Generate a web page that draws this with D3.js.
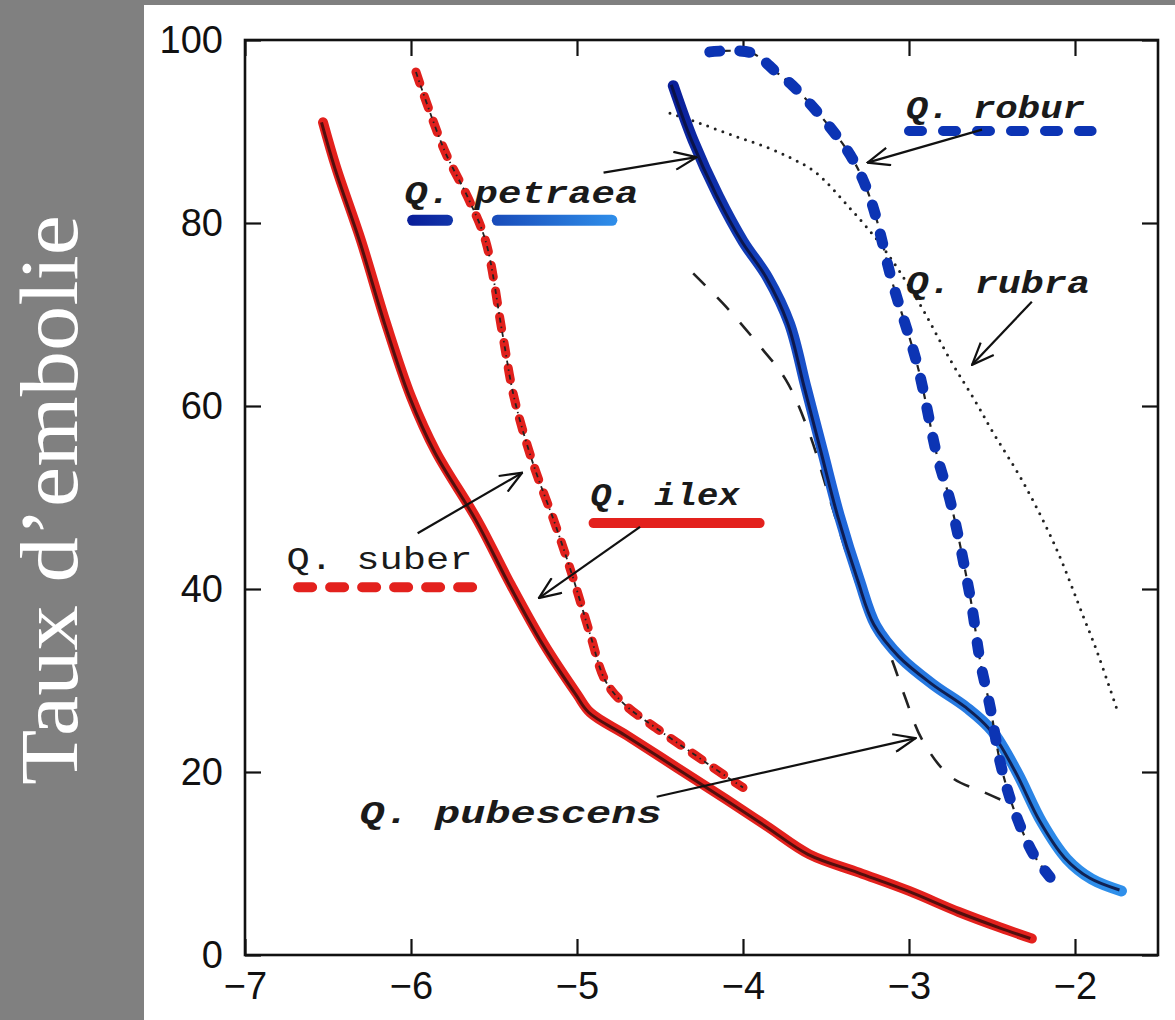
<!DOCTYPE html>
<html><head><meta charset="utf-8">
<script src="https://cdn.jsdelivr.net/npm/d3@7"></script>
<style>html,body{margin:0;padding:0;background:#808080;}svg{display:block;}</style>
</head><body>
<svg id="c" width="1175" height="1020"></svg>
<script>
// ---------------- data ----------------
const xTicks = [-7, -6, -5, -4, -3, -2];
const yTicks = [0, 20, 40, 60, 80, 100];
const yTitle = "Taux d’embolie";

const ilexX = [-6.53,-6.45,-6.3,-6.15,-6.0,-5.85,-5.6,-5.4,-5.2,-5.0,-4.92,-4.7,-4.4,-4.1,-3.85,-3.6,-3.3,-3.0,-2.7,-2.45,-2.26];
const ilexY = [91,86,78,69,61,55,47.5,40.5,34,28.5,26.5,24,20.5,17,14,11,9,7,4.7,3,1.8];

const suberX = [-5.97,-5.8,-5.65,-5.55,-5.45,-5.38,-5.27,-5.13,-5.02,-4.92,-4.83,-4.72,-4.5,-4.3,-4.1,-4.0];
const suberY = [96.5,88,82.5,78,68,61,54,47,41,35,30,27.5,24.5,22,19.5,18.3];

const petraeaX = [-4.42,-4.3,-4.15,-4.0,-3.85,-3.72,-3.62,-3.52,-3.42,-3.3,-3.2,-3.05,-2.85,-2.65,-2.5,-2.35,-2.2,-2.05,-1.9,-1.72];
const petraeaY = [95,89,83,78,74,69,62,55,48,41,36,32.5,29.5,27,24.5,20,14.5,10.5,8.3,7];

const roburX = [-4.2,-3.95,-3.8,-3.7,-3.5,-3.34,-3.23,-3.1,-2.95,-2.83,-2.75,-2.63,-2.57,-2.51,-2.45,-2.37,-2.25,-2.15];
const roburY = [98.7,98.6,96.5,95,91,87,82.5,73.5,64.5,54.5,49.5,39,32,27,21,16,11,8.5];

const pubescensX = [-4.3,-4.1,-3.92,-3.74,-3.6,-3.48,-3.36,-3.24,-3.12,-3.03,-2.92,-2.75,-2.55,-2.45];
const pubescensY = [74.5,70.8,67,62.8,57,50,43,37,33,28.5,23.5,19.5,17.8,17];

const rubraX = [-4.44,-4.26,-4.05,-3.86,-3.7,-3.56,-3.36,-3.16,-2.95,-2.75,-2.6,-2.49,-2.31,-2.11,-1.95,-1.87,-1.75];
const rubraY = [92,90.9,89.5,88.3,87,85.5,81.7,77.4,71.6,65,60.5,57,51.6,44.3,37,33.3,27];

const speciesNames = ["Q. petraea","Q. robur","Q. rubra","Q. ilex","Q. suber","Q. pubescens"];

// ---------------- layout ----------------
const W = 1175, H = 1020;
const panel = {left:144, top:5};
const plot = {left:245, right:1158, top:40, bottom:955};
const svg = d3.select("#c");

svg.append("rect").attr("x",0).attr("y",0).attr("width",W).attr("height",H).attr("fill","#808080");
svg.append("rect").attr("x",panel.left).attr("y",panel.top).attr("width",W-panel.left).attr("height",H-panel.top).attr("fill","#ffffff");

svg.append("text")
  .attr("transform",`translate(58,${(215+785)/2}) rotate(-90)`)
  .attr("text-anchor","middle").attr("dominant-baseline","middle")
  .attr("font-family","'Liberation Serif','DejaVu Serif',serif")
  .attr("font-size",82).attr("fill","#ffffff")
  .attr("textLength",570).attr("lengthAdjust","spacingAndGlyphs")
  .text(yTitle);

const x = d3.scaleLinear().domain([-7,-1.5]).range([plot.left,plot.right]);
const y = d3.scaleLinear().domain([0,100]).range([plot.bottom,plot.top]);

const defs = svg.append("defs");
const g = defs.append("linearGradient").attr("id","blueGrad").attr("x1",0).attr("y1",0).attr("x2",0).attr("y2",1);
g.append("stop").attr("offset","0%").attr("stop-color","#0a1f9a");
g.append("stop").attr("offset","45%").attr("stop-color","#1d5fd6");
g.append("stop").attr("offset","100%").attr("stop-color","#2f8fea");
const gh = defs.append("linearGradient").attr("id","blueGradH").attr("gradientUnits","userSpaceOnUse")
  .attr("x1",x(-6.0)).attr("y1",0).attr("x2",x(-4.75)).attr("y2",0);
gh.append("stop").attr("offset","0%").attr("stop-color","#0a1f9a");
gh.append("stop").attr("offset","100%").attr("stop-color","#2f8fea");
defs.append("marker").attr("id","arrow").attr("viewBox","0 0 24 20").attr("refX",23).attr("refY",10)
  .attr("markerWidth",24).attr("markerHeight",20).attr("markerUnits","userSpaceOnUse").attr("orient","auto")
  .append("path").attr("d","M1,1 L23,10 L1,19").attr("fill","none").attr("stroke","#111").attr("stroke-width",2.2);

// axes
const fontAxis = "'Liberation Sans','DejaVu Sans',Arial,sans-serif";
const tick = 16;
const axB = svg.append("g").attr("transform",`translate(0,${plot.bottom})`)
  .call(d3.axisBottom(x).tickValues(xTicks).tickSizeInner(-tick).tickSizeOuter(0).tickPadding(14).tickFormat(d3.format("d")));
const axT = svg.append("g").attr("transform",`translate(0,${plot.top})`)
  .call(d3.axisTop(x).tickValues(xTicks).tickSizeInner(-tick).tickSizeOuter(0).tickFormat(""));
const axL = svg.append("g").attr("transform",`translate(${plot.left},0)`)
  .call(d3.axisLeft(y).tickValues(yTicks).tickSizeInner(-tick).tickSizeOuter(0).tickPadding(22).tickFormat(d3.format("d")));
const axR = svg.append("g").attr("transform",`translate(${plot.right},0)`)
  .call(d3.axisRight(y).tickValues(yTicks).tickSizeInner(-tick).tickSizeOuter(0).tickFormat(""));
[axB,axT,axL,axR].forEach(a=>{
  a.select(".domain").remove();
  a.selectAll(".tick line").attr("stroke","#111").attr("stroke-width",2.2);
  a.selectAll(".tick text").attr("font-family",fontAxis).attr("font-size",38).attr("fill","#111");
});
axB.selectAll(".tick text").attr("dy","0.8em");
svg.append("rect").attr("x",plot.left).attr("y",plot.top).attr("width",plot.right-plot.left).attr("height",plot.bottom-plot.top)
  .attr("fill","none").attr("stroke","#111").attr("stroke-width",2.6);

// curves
const line = d3.line().x(d=>x(d[0])).y(d=>y(d[1])).curve(d3.curveCatmullRom.alpha(0.5));
const zip = (a,b)=>a.map((v,i)=>[v,b[i]]);
const curves = svg.append("g");

// rubra (dotted)
curves.append("path").attr("d",line(zip(rubraX,rubraY))).attr("fill","none").attr("stroke","#222")
  .attr("stroke-width",3).attr("stroke-linecap","round").attr("stroke-dasharray","0,8");
// pubescens (dashed)
curves.append("path").attr("d",line(zip(pubescensX,pubescensY))).attr("fill","none").attr("stroke","#222")
  .attr("stroke-width",2.6).attr("stroke-dasharray","17,17");
// suber
curves.append("path").attr("d",line(zip(suberX,suberY))).attr("fill","none").attr("stroke","#e0201c")
  .attr("stroke-width",9).attr("stroke-linecap","round").attr("stroke-dasharray","12,14");
curves.append("path").attr("d",line(zip(suberX,suberY))).attr("fill","none").attr("stroke","#222")
  .attr("stroke-width",1.8).attr("stroke-dasharray","5,4,1.5,4");
// ilex
curves.append("path").attr("d",line(zip(ilexX,ilexY))).attr("fill","none").attr("stroke","#e3211d")
  .attr("stroke-width",10).attr("stroke-linecap","round").attr("stroke-linejoin","round");
curves.append("path").attr("d",line(zip(ilexX,ilexY))).attr("fill","none").attr("stroke","#3a0a0a")
  .attr("stroke-width",3).attr("transform","translate(-1.5,0)").attr("opacity",0.85);
// petraea
curves.append("path").attr("d",line(zip(petraeaX,petraeaY))).attr("fill","none").attr("stroke","url(#blueGrad)")
  .attr("stroke-width",11).attr("stroke-linecap","round").attr("stroke-linejoin","round");
curves.append("path").attr("d",line(zip(petraeaX,petraeaY))).attr("fill","none").attr("stroke","#0a0f3a")
  .attr("stroke-width",3).attr("transform","translate(-2,-1)").attr("opacity",0.85);
// robur
curves.append("path").attr("d",line(zip(roburX,roburY))).attr("fill","none").attr("stroke","#222")
  .attr("stroke-width",2.2).attr("stroke-dasharray","7,7");
curves.append("path").attr("d",line(zip(roburX,roburY))).attr("fill","none").attr("stroke","#0c34b4")
  .attr("stroke-width",11).attr("stroke-linecap","round").attr("stroke-dasharray","10,20");

// ---------------- annotations (data-space anchors) ----------------
const fontLab = "'Liberation Mono','DejaVu Sans Mono',monospace";
const labels = [
  {name:speciesNames[0], x0:-6.04, x1:-4.63, yb:82.2, italic:true},
  {name:speciesNames[1], x0:-3.02, x1:-1.94, yb:91.5, italic:true},
  {name:speciesNames[2], x0:-3.02, x1:-1.91, yb:72.3, italic:true},
  {name:speciesNames[3], x0:-4.92, x1:-4.02, yb:49.2, italic:true},
  {name:speciesNames[4], x0:-6.75, x1:-5.63, yb:42.2, italic:false},
  {name:speciesNames[5], x0:-6.31, x1:-4.49, yb:14.4, italic:true}
];
const ann = svg.append("g");
labels.forEach(l=>{
  ann.append("text").attr("x",x(l.x0)).attr("y",y(l.yb))
    .attr("font-family",fontLab).attr("font-size",32).attr("font-weight",l.italic?"bold":"normal")
    .attr("font-style",l.italic?"italic":"normal").attr("fill","#1a1a1a")
    .attr("textLength",x(l.x1)-x(l.x0)).attr("lengthAdjust","spacingAndGlyphs").text(l.name);
});
// legend strokes
const keyLine = d3.line().x(d=>x(d[0])).y(d=>y(d[1]));
ann.append("path").attr("d",keyLine([[-5.99,80.3],[-5.78,80.3]])).attr("stroke","url(#blueGradH)").attr("stroke-width",11).attr("stroke-linecap","round");
ann.append("path").attr("d",keyLine([[-5.48,80.3],[-4.79,80.3]])).attr("stroke","url(#blueGradH)").attr("stroke-width",11).attr("stroke-linecap","round");
ann.append("path").attr("d",keyLine([[-3.0,90.05],[-1.9,90.05]])).attr("stroke","#0c34b4").attr("stroke-width",10).attr("stroke-linecap","round").attr("stroke-dasharray","13,21");
ann.append("path").attr("d",keyLine([[-4.9,47.2],[-3.9,47.2]])).attr("stroke","#e3211d").attr("stroke-width",10).attr("stroke-linecap","round");
ann.append("path").attr("d",keyLine([[-6.68,40.2],[-5.62,40.2]])).attr("stroke","#e3211d").attr("stroke-width",10).attr("stroke-linecap","round").attr("stroke-dasharray","14,18");
// arrows
const arrows = [
  [[-4.84,85.5],[-4.28,87.2]],
  [[-2.56,90.2],[-3.25,86.6]],
  [[-2.26,71.4],[-2.62,64.5]],
  [[-4.62,46.8],[-5.23,39.0]],
  [[-5.96,46.1],[-5.33,52.7]],
  [[-4.52,17.3],[-2.96,23.7]]
];
arrows.forEach(a=>{
  ann.append("path").attr("d",keyLine(a)).attr("stroke","#111").attr("stroke-width",2.2).attr("fill","none").attr("marker-end","url(#arrow)");
});
</script>
</body></html>
